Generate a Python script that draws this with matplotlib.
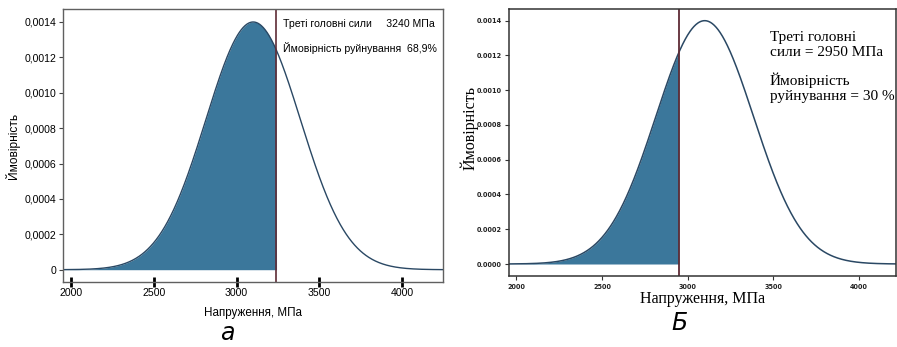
import numpy as np
import matplotlib
matplotlib.use("Agg")
import matplotlib.pyplot as plt
from matplotlib.ticker import FixedLocator, FuncFormatter

# Distribution of the third principal stress (MPa)
stress_mean = 3100.0
stress_sd = 285.0

# Threshold stresses and failure probabilities for the two cases
threshold_a = 3240
prob_a = 68.9
threshold_b = 2950
prob_b = 30

x_ticks = [2000, 2500, 3000, 3500, 4000]
y_ticks = [0, 0.0002, 0.0004, 0.0006, 0.0008, 0.0010, 0.0012, 0.0014]

FILL = "#3b779b"
CURVE = "#2a4864"
VLINE = "#5e2b35"


def density(x):
    z = (x - stress_mean) / stress_sd
    return np.exp(-0.5 * z * z) / (stress_sd * np.sqrt(2 * np.pi))


fig = plt.figure(figsize=(8.97, 3.47), dpi=100)

# ---------- panel a ----------
ax1 = fig.add_axes([0.0702, 0.1873, 0.4237, 0.7867])
xlim1 = (1952, 4246)
xs = np.linspace(xlim1[0], xlim1[1], 800)
ax1.fill_between(xs, 0, density(xs), where=xs <= threshold_a,
                 color=FILL, linewidth=0, interpolate=True)
ax1.plot(xs, density(xs), color=CURVE, linewidth=1.0)
ax1.axvline(threshold_a, color=VLINE, linewidth=1.2)
ax1.set_xlim(*xlim1)
ax1.set_ylim(-0.0000695, 0.001473)
ax1.xaxis.set_major_locator(FixedLocator(x_ticks))
ax1.yaxis.set_major_locator(FixedLocator(y_ticks))
ax1.yaxis.set_major_formatter(FuncFormatter(
    lambda v, p: "0" if abs(v) < 1e-12 else f"{v:.4f}".replace(".", ",")))
for s in ax1.spines.values():
    s.set_color("#606060")
    s.set_linewidth(1.0)
ax1.tick_params(axis="x", direction="inout", length=7, width=2,
                color="black", labelsize=7.6, pad=1)
ax1.tick_params(axis="y", direction="out", length=3, width=0.8,
                color="#444444", labelsize=7.6, pad=2)
for lab in ax1.get_xticklabels() + ax1.get_yticklabels():
    lab.set_fontfamily("Liberation Sans")
ax1.set_xlabel("Напруження, МПа", fontfamily="Liberation Sans",
               fontsize=8.4, labelpad=6)
ax1.set_ylabel("Ймовірність", fontfamily="Liberation Sans",
               fontsize=8.6, labelpad=3)
ax1.text(0.579, 0.945, f"Треті головні сили     {threshold_a} МПа",
         transform=ax1.transAxes, fontfamily="Liberation Sans",
         fontsize=7.6, ha="left", va="center")
ax1.text(0.579, 0.857,
         f"Ймовірність руйнування  {str(prob_a).replace('.', ',')}%",
         transform=ax1.transAxes, fontfamily="Liberation Sans",
         fontsize=7.6, ha="left", va="center")
fig.text(0.2530, 0.040, "а", fontfamily="DejaVu Sans", style="italic",
         fontsize=17, ha="center", va="center")

# ---------- panel б ----------
ax2 = fig.add_axes([0.5678, 0.2046, 0.4316, 0.7695])
xlim2 = (1959, 4220)
xs2 = np.linspace(xlim2[0], xlim2[1], 800)
ax2.fill_between(xs2, 0, density(xs2), where=xs2 <= threshold_b,
                 color=FILL, linewidth=0, interpolate=True)
ax2.plot(xs2, density(xs2), color=CURVE, linewidth=1.1)
ax2.axvline(threshold_b, color=VLINE, linewidth=1.3)
ax2.set_xlim(*xlim2)
ax2.set_ylim(-0.000069, 0.001467)
ax2.xaxis.set_major_locator(FixedLocator(x_ticks))
ax2.yaxis.set_major_locator(FixedLocator(y_ticks))
ax2.yaxis.set_major_formatter(FuncFormatter(lambda v, p: f"{v:.4f}"))
for s in ax2.spines.values():
    s.set_color("#333333")
    s.set_linewidth(1.1)
ax2.tick_params(axis="both", direction="out", length=3, width=0.8,
                color="#333333", labelsize=4.7, pad=2.5)
for lab in ax2.get_xticklabels() + ax2.get_yticklabels():
    lab.set_fontweight("bold")
    lab.set_color("#222222")
ax2.set_xlabel("Напруження, МПа", fontfamily="Liberation Serif",
               fontsize=11.5, labelpad=1)
ax2.set_ylabel("Ймовірність", fontfamily="Liberation Serif",
               fontsize=11.5)
ax2.yaxis.set_label_coords(-0.08, 0.554)
ax2.text(0.673, 0.865, f"Треті головні\nсили = {threshold_b} МПа",
         transform=ax2.transAxes, fontfamily="Liberation Serif",
         fontsize=11, ha="left", va="center", linespacing=1.2)
ax2.text(0.673, 0.706, f"Ймовірність\nруйнування = {prob_b} %",
         transform=ax2.transAxes, fontfamily="Liberation Serif",
         fontsize=11, ha="left", va="center", linespacing=1.2)
fig.text(0.7570, 0.069, "Б", fontfamily="DejaVu Sans", style="italic",
         fontsize=17, ha="center", va="center")

fig.savefig("out.png", dpi=100)
